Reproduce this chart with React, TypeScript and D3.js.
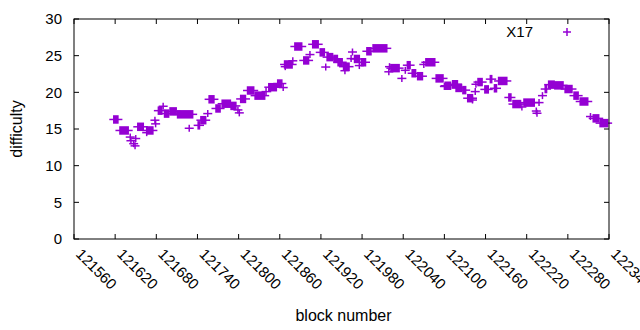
import * as d3 from "d3";

// runs of blocks with the same difficulty (start block, end block, difficulty)
const runStart = [
  121618, 121627, 121642, 121643, 121647, 121649, 121650, 121653, 121666, 121666,
  121678, 121679, 121683, 121690, 121692, 121700, 121711, 121728, 121741, 121745,
  121755, 121757, 121767, 121776, 121789, 121799, 121801, 121803, 121813, 121824,
  121840, 121844, 121857, 121865, 121867, 121868, 121879, 121882, 121895, 121904,
  121908, 121919, 121927, 121929, 121939, 121945, 121953, 121955, 121964, 121966,
  121969, 121976, 121979, 121987, 121996, 122019, 122020, 122022, 122038, 122043,
  122046, 122053, 122061, 122070, 122073, 122088, 122100, 122101, 122112, 122117,
  122127, 122134, 122141, 122145, 122146, 122149, 122159, 122167, 122173, 122179,
  122194, 122200, 122213, 122216, 122234, 122235, 122238, 122243, 122247, 122252,
  122261, 122276, 122289, 122298, 122313, 122317, 122327,
];
const runEnd = [
  121624, 121639, 121642, 121643, 121647, 121649, 121650, 121661, 121666, 121675,
  121678, 121679, 121688, 121690, 121698, 121709, 121733, 121728, 121743, 121752,
  121755, 121764, 121773, 121788, 121796, 121799, 121801, 121810, 121822, 121838,
  121841, 121855, 121863, 121865, 121878, 121868, 121879, 121892, 121902, 121904,
  121916, 121925, 121927, 121937, 121944, 121951, 121961, 121955, 121964, 121966,
  121976, 121976, 121985, 121993, 122016, 122019, 122020, 122034, 122038, 122043,
  122050, 122058, 122068, 122070, 122086, 122098, 122100, 122109, 122119, 122125,
  122131, 122141, 122141, 122145, 122146, 122155, 122164, 122169, 122176, 122191,
  122197, 122211, 122213, 122231, 122234, 122235, 122238, 122243, 122249, 122260,
  122273, 122286, 122295, 122309, 122313, 122325, 122338,
];
const runDiff = [
  16.3, 14.8, 13.9, 13.4, 13.0, 12.7, 13.7, 15.3, 14.5, 14.8,
  16.2, 15.7, 17.5, 18.1, 17.1, 17.4, 17.0, 15.1, 15.5, 16.2,
  17.1, 19.05, 17.8, 18.45, 18.15, 17.6, 17.2, 19.1, 20.25, 19.55,
  20.1, 20.7, 21.2, 20.65, 23.8, 23.5, 24.3, 26.25, 24.35, 25.15,
  26.55, 25.45, 23.45, 24.8, 24.55, 24.1, 23.5, 22.95, 24.6, 25.5,
  24.55, 23.65, 24.1, 25.6, 26.0, 22.8, 23.5, 23.3, 21.9, 23.0,
  23.7, 22.6, 22.2, 23.8, 24.1, 21.9, 20.8, 20.9, 21.1, 20.6,
  20.3, 19.2, 18.95, 20.1, 21.1, 21.4, 20.4, 21.8, 20.55, 21.55,
  19.3, 18.4, 18.0, 18.6, 17.45, 17.15, 18.6, 19.55, 20.45, 21.05,
  20.95, 20.45, 19.55, 18.75, 16.7, 16.45, 15.8,
];

const xTicks = [
  121560, 121620, 121680, 121740, 121800, 121860, 121920, 121980, 122040,
  122100, 122160, 122220, 122280, 122340,
];
const yTicks = [0, 5, 10, 15, 20, 25, 30];

const W = 640;
const H = 330;
const left = 74;
const right = 609;
const top = 19;
const bottom = 239;
const purple = "#9400d3";
const font = "'Liberation Sans', Arial, sans-serif";
const fs = 15;

export default function App() {
  const x = d3.scaleLinear().domain([121560, 122340]).range([left, right]);
  const y = d3.scaleLinear().domain([0, 30]).range([bottom, top]);
  const hx = 4.5;
  const hy = 3.5;

  return (
    <svg
      width={W}
      height={H}
      style={{ position: "absolute", left: 0, top: 0, background: "#fff" }}
      fontFamily={font}
    >
      {/* ticks, mirrored */}
      <g stroke="#000" strokeWidth={1}>
        {yTicks.map((t) => (
          <g key={"y" + t}>
            <line x1={left} x2={left + 5} y1={y(t)} y2={y(t)} />
            <line x1={right} x2={right - 5} y1={y(t)} y2={y(t)} />
          </g>
        ))}
        {xTicks.map((t) => (
          <g key={"x" + t}>
            <line x1={x(t)} x2={x(t)} y1={bottom} y2={bottom - 5} />
            <line x1={x(t)} x2={x(t)} y1={top} y2={top + 5} />
          </g>
        ))}
      </g>

      {yTicks.map((t) => (
        <text
          key={"yl" + t}
          x={left - 12}
          y={y(t)}
          dy="0.35em"
          textAnchor="end"
          fontSize={fs}
          fill="#000"
        >
          {t}
        </text>
      ))}
      {xTicks.map((t) => (
        <text
          key={"xl" + t}
          transform={`translate(${x(t) + 1},${bottom + 16}) rotate(45)`}
          fontSize={fs}
          fill="#000"
        >
          {t}
        </text>
      ))}

      <text
        transform={`translate(22,${(top + bottom) / 2}) rotate(-90)`}
        textAnchor="middle"
        fontSize={16}
      >
        difficulty
      </text>
      <text x={(left + right) / 2 + 2} y={321} textAnchor="middle" fontSize={16}>
        block number
      </text>

      {/* points */}
      <g fill={purple} stroke={purple} strokeWidth={1.5}>
        {runStart.map((s, i) => {
          const x0 = x(s);
          const x1 = x(runEnd[i]);
          const cy = y(runDiff[i]);
          return (
            <g key={i}>
              <line x1={x0 - hx} x2={x1 + hx} y1={cy} y2={cy} />
              {x1 - x0 < 1 ? (
                <line x1={x0} x2={x0} y1={cy - hy} y2={cy + hy} />
              ) : (
                <rect
                  x={x0 - 0.75}
                  y={cy - hy - 0.75}
                  width={x1 - x0 + 1.5}
                  height={2 * hy + 1.5}
                  stroke="none"
                />
              )}
            </g>
          );
        })}
      </g>

      {/* legend */}
      <text x={533} y={32} dy="0.35em" textAnchor="end" fontSize={fs}>
        X17
      </text>
      <g stroke={purple} strokeWidth={1.5}>
        <line x1={563} x2={571} y1={32} y2={32} />
        <line x1={567} x2={567} y1={28} y2={36} />
      </g>

      <rect
        x={left}
        y={top}
        width={right - left}
        height={bottom - top}
        fill="none"
        stroke="#000"
        strokeWidth={1}
      />
    </svg>
  );
}
